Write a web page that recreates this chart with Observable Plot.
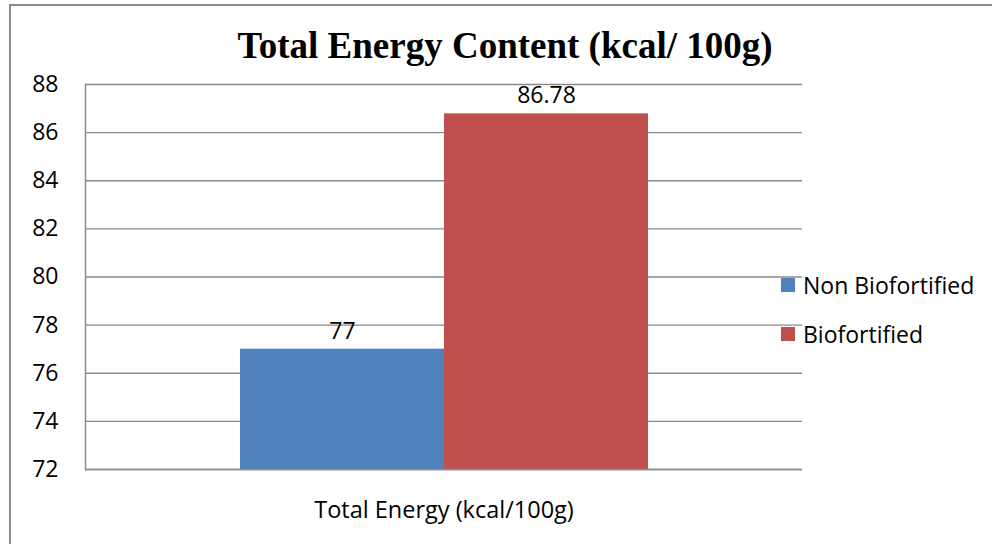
<!DOCTYPE html>
<html>
<head>
<meta charset="utf-8">
<script src="https://cdn.jsdelivr.net/npm/d3@7"></script>
<script src="https://cdn.jsdelivr.net/npm/@observablehq/plot@0.6"></script>
<style>
  html, body { margin: 0; padding: 0; background: #fff; }
  #chart { position: relative; width: 992px; height: 544px; overflow: hidden; font-family: "Open Sans", sans-serif; }
  #border { position: absolute; left: 9px; top: 4px; right: -4px; bottom: -4px; border-left: 2px solid #8a8a8a; border-top: 2px solid #8a8a8a; }
  #title { position: absolute; left: 0; top: 25px; width: 1010px; text-align: center; font-family: "Liberation Serif", "Times New Roman", serif; font-weight: bold; font-size: 37px; line-height: 42px; color: #000; }
  #plot { position: absolute; left: 0; top: 0; }
  #legend { position: absolute; left: 781px; top: 260px; font-size: 23px; color: #000; }
  .item { display: flex; align-items: center; height: 49px; }
  .swatch { width: 14px; height: 14px; margin-right: 8px; }
</style>
</head>
<body>
<div id="chart">
  <div id="border"></div>
  <div id="title"></div>
  <div id="plot"></div>
  <div id="legend"></div>
</div>
<script>
// Chart content
const title = "Total Energy Content (kcal/ 100g)";
const category = "Total Energy (kcal/100g)";
const series = ["Non Biofortified", "Biofortified"];
const values = [77, 86.78];
const colors = ["#4F81BD", "#C0504D"];
const yDomain = [72, 88];
const yTicks = [72, 74, 76, 78, 80, 82, 84, 86, 88];

const data = series.map((s, i) => ({category, series: s, value: values[i]}));

document.getElementById("title").textContent = title;

const gridColor = "#8a8a8a";

const chart = Plot.plot({
  width: 992,
  height: 544,
  marginLeft: 85,
  marginRight: 190,
  marginTop: 84,
  marginBottom: 75,
  style: {fontFamily: "'Open Sans', sans-serif", fontSize: "23px", color: "#000", background: "transparent"},
  fx: {domain: [category], padding: 0, label: null},
  x: {domain: series, paddingInner: 0, paddingOuter: 0.749, axis: null},
  y: {domain: yDomain, ticks: yTicks, label: null},
  color: {domain: series, range: colors},
  marks: [
    Plot.gridY(yTicks, {stroke: gridColor, strokeOpacity: 1, strokeWidth: 1.3}),
    Plot.barY(data, {fx: "category", x: "series", y1: yDomain[0], y2: "value", fill: "series"}),
    Plot.text(data, {fx: "category", x: "series", y: "value", text: d => String(d.value), dy: -18, fill: "#000"}),
    Plot.ruleY([yDomain[0]], {stroke: gridColor, strokeWidth: 1.5}),
    Plot.frame({anchor: "left", stroke: gridColor, strokeWidth: 1.5}),
    Plot.axisY(yTicks, {tickSize: 0, tickPadding: 27, fill: "#000", tickFormat: d => String(d)}),
    Plot.axisFx({anchor: "bottom", tickSize: 0, tickPadding: 32, label: null, fill: "#000", fontSize: "23.5px"})
  ]
});
document.getElementById("plot").appendChild(chart);

// Legend built from the same series and colours
const legend = document.getElementById("legend");
series.forEach((s, i) => {
  const item = document.createElement("div");
  item.className = "item";
  const sw = document.createElement("span");
  sw.className = "swatch";
  sw.style.background = colors[i];
  const label = document.createElement("span");
  label.textContent = s;
  item.appendChild(sw);
  item.appendChild(label);
  legend.appendChild(item);
});
</script>
</body>
</html>
